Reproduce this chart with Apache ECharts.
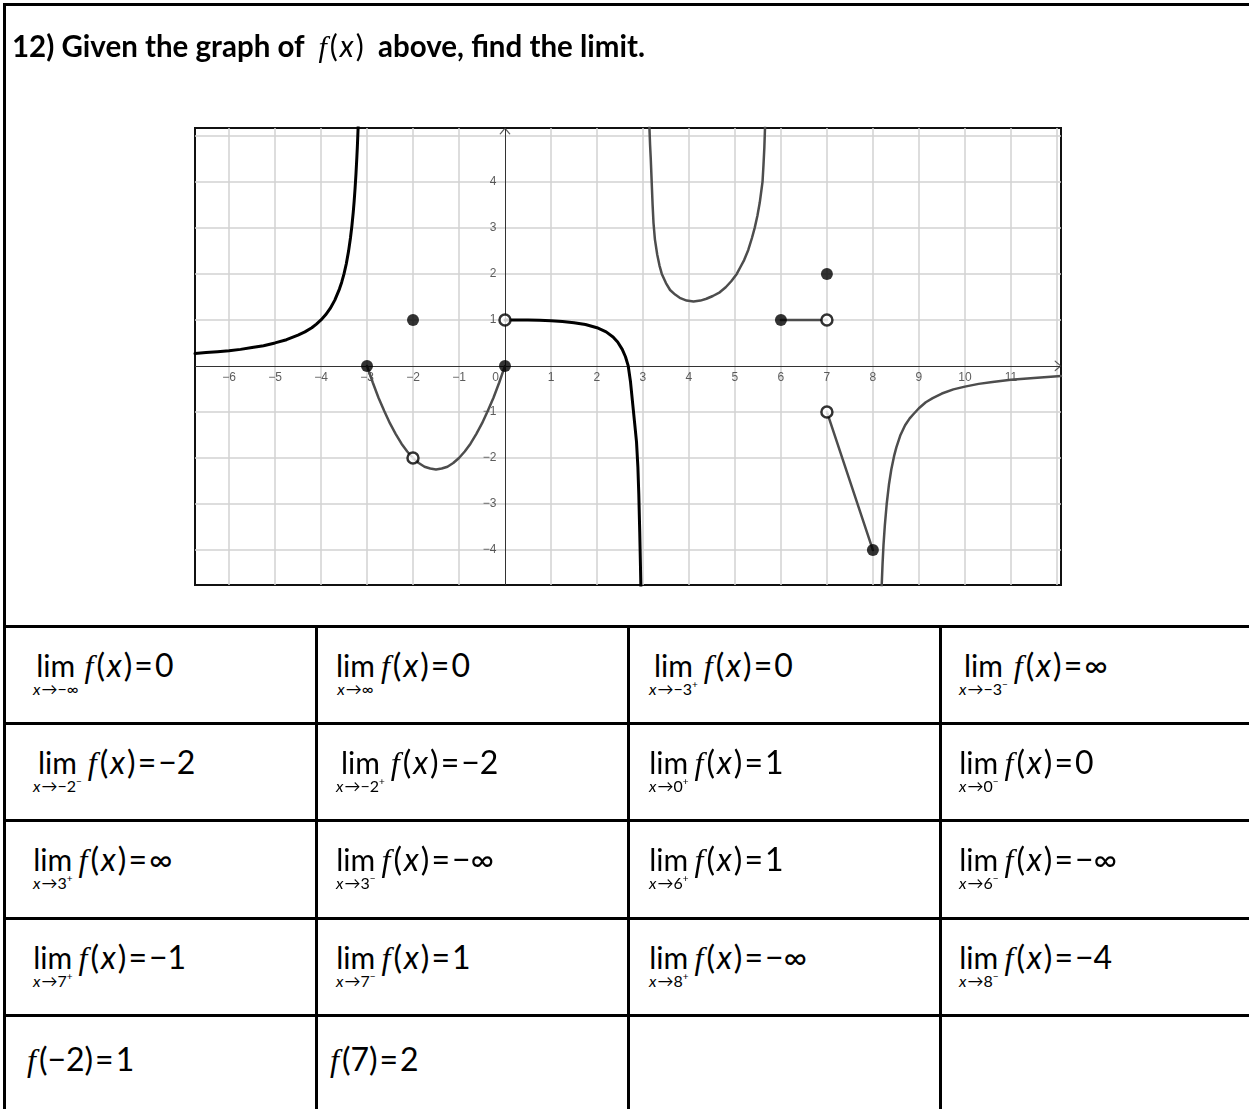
<!DOCTYPE html>
<html>
<head>
<meta charset="utf-8">
<script src="https://cdn.jsdelivr.net/npm/echarts@6/dist/echarts.min.js"></script>
<style>
  html, body { margin: 0; padding: 0; background: #fff; }
  #page { position: relative; width: 1249px; height: 1109px; overflow: hidden; background: #fff; }
  #chart { position: absolute; left: 0; top: 0; width: 1249px; height: 620px; }
  .hl { position: absolute; height: 3px; background: #000; z-index: 5; }
  .vl { position: absolute; width: 3px; background: #000; z-index: 5; }
  #title { position: absolute; left: 12px; top: 28px; font: bold 29.5px Lato, sans-serif; line-height: 34px; color: #000; white-space: nowrap; z-index: 6; }
  #title .fx { font-weight: normal; font-size: 30px; }
  .fn { font-family: "Liberation Serif", serif; font-style: italic; margin-right: 3px; }
  .vx { font-family: Lato, sans-serif; font-style: italic; margin: 0 2px; }
  .lim .vx { margin: 0 1px 0 0; }
  .eq { margin: 0 2px; }
  .cell { position: absolute; font: 30px Lato, sans-serif; line-height: 32px; color: #000; white-space: nowrap; z-index: 6; }
  .cell .ex { font-size: 32px; }
  .lim { display: inline-flex; flex-direction: column; align-items: center; vertical-align: baseline; margin-right: 6px; }
  .lim .sub { font-size: 16px; line-height: 16px; margin-top: 0; }
  .lim .sub sup { font-size: 10px; vertical-align: 7px; line-height: 0; }
</style>
</head>
<body>
<div id="page">
  <div id="chart"></div>
  <div id="title">12) Given the graph of&nbsp; <span class="fx"><span class="fn">f</span>(<span class="vx">x</span>)</span>&nbsp; above, find the limit.</div>
</div>
<script>
// ---- curve pieces of f(x), [x, y] pairs ----
const leftBranch = [[-6.74,0.27],[-6.5,0.29],[-6.25,0.31],[-6,0.33],[-5.75,0.36],[-5.5,0.4],[-5.25,0.44],[-5,0.5],[-4.75,0.57],[-4.5,0.67],[-4.35,0.74],[-4.2,0.83],[-4.1,0.91],[-4,1],[-3.9,1.11],[-3.8,1.25],[-3.7,1.43],[-3.6,1.67],[-3.55,1.82],[-3.5,2],[-3.45,2.22],[-3.4,2.5],[-3.36,2.78],[-3.33,3.03],[-3.3,3.33],[-3.28,3.57],[-3.26,3.85],[-3.24,4.17],[-3.22,4.55],[-3.21,4.76],[-3.19,5.26]];
const parabola = [[-3,0],[-2.875,-0.36],[-2.75,-0.69],[-2.625,-0.98],[-2.5,-1.25],[-2.375,-1.48],[-2.25,-1.69],[-2.125,-1.86],[-2,-2],[-1.875,-2.11],[-1.75,-2.19],[-1.625,-2.23],[-1.5,-2.25],[-1.375,-2.23],[-1.25,-2.19],[-1.125,-2.11],[-1,-2],[-0.875,-1.86],[-0.75,-1.69],[-0.625,-1.48],[-0.5,-1.25],[-0.375,-0.98],[-0.25,-0.69],[-0.125,-0.36],[0,0]];
const middleBranch = [[0,1],[0.25,1],[0.5,1],[0.75,0.99],[1,0.98],[1.25,0.965],[1.5,0.94],[1.75,0.9],[2,0.83],[2.2,0.74],[2.35,0.63],[2.45,0.52],[2.55,0.36],[2.62,0.2],[2.68,0],[2.73,-0.35],[2.78,-0.85],[2.82,-1.25],[2.86,-1.65],[2.89,-2.2],[2.91,-2.8],[2.93,-3.6],[2.945,-4.3],[2.955,-4.8]];
const uBranch = [[3.14,5.2],[3.155,4.8],[3.17,4.5],[3.19,4],[3.21,3.5],[3.23,3.1],[3.26,2.75],[3.31,2.42],[3.36,2.18],[3.41,2],[3.5,1.8],[3.59,1.65],[3.7,1.55],[3.8,1.48],[3.95,1.42],[4.1,1.4],[4.25,1.42],[4.38,1.46],[4.52,1.52],[4.67,1.6],[4.8,1.71],[4.92,1.84],[5.04,2],[5.12,2.15],[5.2,2.3],[5.29,2.52],[5.37,2.78],[5.43,3],[5.49,3.27],[5.54,3.55],[5.58,3.85],[5.6,4],[5.62,4.35],[5.64,4.75],[5.655,5.2]];
const flatSegment = [[6,1],[7,1]];
const slopeSegment = [[7,-1],[8,-4]];
const rightBranch = [[8.19,-4.8],[8.21,-4.3],[8.23,-3.9],[8.26,-3.46],[8.3,-3],[8.35,-2.57],[8.4,-2.25],[8.46,-1.96],[8.51,-1.77],[8.6,-1.5],[8.7,-1.29],[8.8,-1.14],[8.88,-1.05],[9,-0.92],[9.15,-0.79],[9.3,-0.7],[9.5,-0.6],[9.75,-0.51],[10,-0.45],[10.3,-0.39],[10.6,-0.35],[11,-0.3],[11.5,-0.26],[12.09,-0.22]];
const filledPoints = [[-3,0],[0,0],[-2,1],[6,1],[7,2],[8,-4]];
const openPoints = [[-2,-2],[0,1],[7,1],[7,-1]];

// ---- axes ----
const xRange = [-6.74, 12.09];
const yRange = [-4.76, 5.17];
const gridX = [-6,-5,-4,-3,-2,-1,1,2,3,4,5,6,7,8,9,10,11,12];
const gridY = [-4,-3,-2,-1,1,2,3,4,5];
const xTickLabels = [-6,-5,-4,-3,-2,-1,1,2,3,4,5,6,7,8,9,10,11];
const yTickLabels = [-4,-3,-2,-1,1,2,3,4];

// ---- table of limits: [approach, side, value] ----
const limitRows = [
  [['x→−∞', '', '0'], ['x→∞', '', '0'], ['x→−3', '+', '0'], ['x→−3', '−', '∞']],
  [['x→−2', '−', '−2'], ['x→−2', '+', '−2'], ['x→0', '+', '1'], ['x→0', '−', '0']],
  [['x→3', '+', '∞'], ['x→3', '−', '−∞'], ['x→6', '+', '1'], ['x→6', '−', '−∞']],
  [['x→7', '+', '−1'], ['x→7', '−', '1'], ['x→8', '+', '−∞'], ['x→8', '−', '−4']]
];
const valueRow = [['−2', '1'], ['7', '2']];

const minus = v => String(v).replace('-', '−');

const chart = echarts.init(document.getElementById('chart'), null, { renderer: 'canvas' });

const grayCurve = '#4d4d4d';
function curve(data, color, width) {
  return {
    type: 'line', data, showSymbol: false, symbol: 'none', smooth: false,
    lineStyle: { color, width, join: 'round', cap: 'round' }, z: 4, silent: true, animation: false
  };
}

chart.setOption({
  animation: false,
  backgroundColor: 'transparent',
  grid: { left: 195, top: 128, width: 866, height: 457, show: true, borderColor: '#111', borderWidth: 2, backgroundColor: '#fff' },
  xAxis: { type: 'value', min: xRange[0], max: xRange[1], show: false },
  yAxis: { type: 'value', min: yRange[0], max: yRange[1], show: false },
  series: [
    { // light grid
      type: 'line', data: [], silent: true, z: 1,
      markLine: {
        silent: true, symbol: ['none', 'none'], label: { show: false }, z: 1, animation: false,
        lineStyle: { type: 'solid', color: '#d2d2d2', width: 1.5 },
        data: gridX.map(v => ({ xAxis: v })).concat(gridY.map(v => ({ yAxis: v })))
      }
    },
    { // coordinate axes
      type: 'line', data: [], silent: true, z: 2,
      markLine: {
        silent: true, symbol: ['none', 'none'], label: { show: false }, z: 2, animation: false,
        lineStyle: { type: 'solid', color: '#333', width: 1 },
        data: [{ xAxis: 0 }, { yAxis: 0 }]
      }
    },
    { // axis arrows
      type: 'scatter', silent: true, z: 3,
      symbol: 'path://M0,0 L6,5 L0,10', symbolSize: [6, 10],
      itemStyle: { color: 'none', borderColor: '#333', borderWidth: 1 },
      data: [
        { value: [xRange[1] - 0.07, 0], symbolRotate: 0 },
        { value: [0, yRange[1] - 0.07], symbolRotate: 90 }
      ]
    },
    { // x tick labels
      type: 'scatter', silent: true, z: 3, symbolSize: 1, itemStyle: { color: 'transparent' },
      data: xTickLabels.map(v => [v, 0]).concat([{ value: [0, 0], label: { align: 'right', offset: [-6, 0] } }]),
      label: { show: true, position: 'bottom', distance: 5, color: '#333', fontSize: 12, fontFamily: 'Liberation Sans',
        formatter: p => minus(p.value[0]) }
    },
    { // y tick labels
      type: 'scatter', silent: true, z: 3, symbolSize: 1, itemStyle: { color: 'transparent' },
      data: yTickLabels.map(v => [0, v]),
      label: { show: true, position: 'left', distance: 8, color: '#333', fontSize: 12, fontFamily: 'Liberation Sans',
        formatter: p => minus(p.value[1]) }
    },
    curve(leftBranch, '#000', 3),
    curve(parabola, grayCurve, 2.5),
    curve(middleBranch, '#000', 3),
    curve(uBranch, grayCurve, 2.5),
    curve(flatSegment, grayCurve, 2.5),
    curve(slopeSegment, grayCurve, 2.5),
    curve(rightBranch, grayCurve, 2.5),
    {
      type: 'scatter', data: filledPoints, symbol: 'circle', symbolSize: 12, z: 6, silent: true,
      itemStyle: { color: '#000' }
    },
    {
      type: 'scatter', data: openPoints, symbol: 'circle', symbolSize: 11, z: 6, silent: true,
      itemStyle: { color: '#fff', borderColor: '#000', borderWidth: 2.5 }
    }
  ]
});

// ---- page frame and table ----
const page = document.getElementById('page');
const rowLines = [625, 722, 819, 917, 1014];
const colLines = [3, 315, 627, 939];
const padLeft = [30, 21, 22, 20];

function addDiv(cls, style) {
  const d = document.createElement('div');
  d.className = cls;
  Object.assign(d.style, style);
  page.appendChild(d);
  return d;
}
addDiv('hl', { left: '3px', top: '3px', width: '1246px' });
addDiv('vl', { left: '3px', top: '3px', height: '1106px' });
rowLines.forEach(y => addDiv('hl', { left: '3px', top: y + 'px', width: '1246px' }));
colLines.slice(1).forEach(x => addDiv('vl', { left: x + 'px', top: rowLines[0] + 'px', height: (1109 - rowLines[0]) + 'px' }));

const fx = '<span class="fn">f</span>(<span class="vx">x</span>)';
function subHtml(sub, side) {
  const body = sub.replace('x', '<span class="vx">x</span>');
  return body + (side ? '<sup>' + side + '</sup>' : '');
}
limitRows.forEach((row, r) => {
  row.forEach((c, k) => {
    const d = addDiv('cell', { left: (colLines[k] + padLeft[k]) + 'px', top: (rowLines[r] + 24) + 'px' });
    d.innerHTML = '<span class="lim"><span>lim</span><span class="sub">' + subHtml(c[0], c[1]) + '</span></span>' +
      '<span class="ex">' + fx + '<span class="eq">=</span>' + c[2] + '</span>';
  });
});
valueRow.forEach((c, k) => {
  const d = addDiv('cell', { left: (colLines[k] + padLeft[k] - 6) + 'px', top: (rowLines[4] + 29) + 'px' });
  d.innerHTML = '<span class="ex"><span class="fn">f</span>(' + c[0] + ')<span class="eq">=</span>' + c[1] + '</span>';
});
</script>
</body>
</html>
